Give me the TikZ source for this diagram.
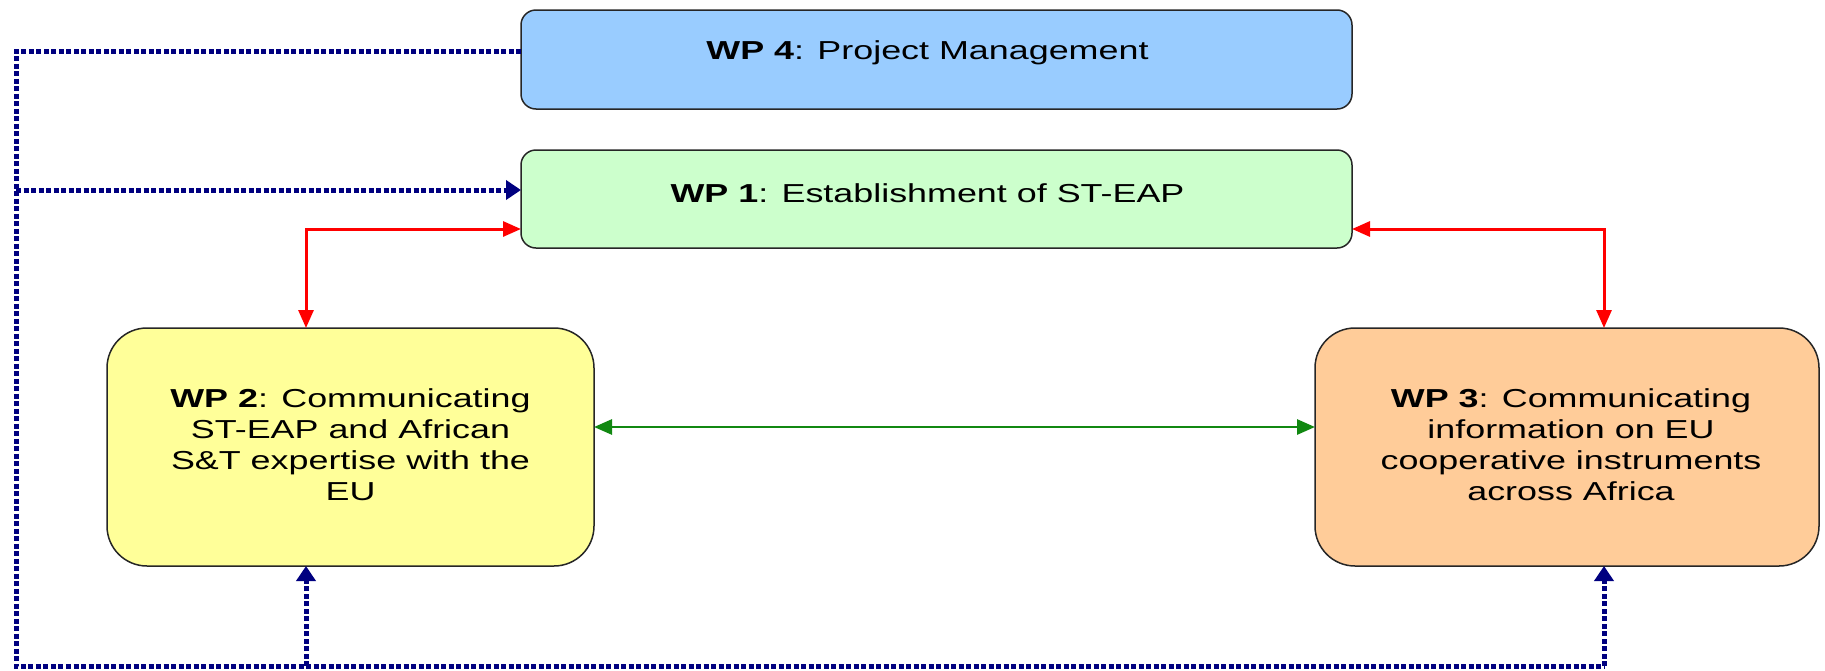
\documentclass[tikz,border=0pt]{standalone}
\usepackage{fontspec}
\setmainfont{Liberation Sans}[FakeStretch=1.38]
\usetikzlibrary{arrows.meta,calc}
\definecolor{wpblue}{HTML}{99CCFF}
\definecolor{wpgreen}{HTML}{CCFFCC}
\definecolor{wpyellow}{HTML}{FFFF99}
\definecolor{wporange}{HTML}{FFCC99}
\definecolor{navyline}{HTML}{000080}
\definecolor{redline}{HTML}{FF0000}
\definecolor{greenline}{HTML}{118811}
\begin{document}
\begin{tikzpicture}[x=1pt,y=-1pt,
  wpbox/.style={draw=black!85, line width=1.5pt, inner sep=0pt, outer sep=0pt},
  wptext/.style={align=center, inner sep=0pt, font=\fontsize{26}{31}\selectfont},
  dotline/.style={draw=navyline, line width=5pt, dash pattern=on 5pt off 2.5pt},
  dottip/.style={-{Triangle[length=15pt,width=19pt]}},
  redarrow/.style={draw=redline, line width=3pt, {Triangle[length=18pt,width=15pt]}-{Triangle[length=18pt,width=15pt]}},
  greenarrow/.style={draw=greenline, line width=2.8pt, {Triangle[length=18pt,width=15pt]}-{Triangle[length=18pt,width=15pt]}}
]
\useasboundingbox (0,0) rectangle (1825,670);

% boxes
\node[wpbox, fill=wpblue, rounded corners=15pt, minimum width=831pt, minimum height=99pt] (wp4) at (936.5,59.5) {};
\node[wpbox, fill=wpgreen, rounded corners=15pt, minimum width=831pt, minimum height=98pt] (wp1) at (936.5,199) {};
\node[wpbox, fill=wpyellow, rounded corners=40pt, minimum width=487pt, minimum height=238pt] (wp2) at (350.5,447) {};
\node[wpbox, fill=wporange, rounded corners=40pt, minimum width=504pt, minimum height=238pt] (wp3) at (1567,447) {};

% texts
\node[wptext] (wp4t) at ($(wp4.center)+(-9,-7)$) {\textbf{WP 4}: Project Management};
\node[wptext] (wp1t) at ($(wp1.center)+(-9,-6)$) {\textbf{WP 1}: Establishment of ST-EAP};
\node[wptext] (wp2t) at ($(wp2.center)+(0,-2)$) {\textbf{WP 2}: Communicating\\ST-EAP and African\\S\&T expertise with the\\EU};
\node[wptext] (wp3t) at ($(wp3.center)+(4,-2)$) {\textbf{WP 3}: Communicating\\information on EU\\cooperative instruments\\across Africa};

% coordinates for routing
\coordinate (c1) at (16,51);
\coordinate (c2) at (16,666);
\coordinate (c3) at (1604,666);
\coordinate (c4) at (16,190);
\coordinate (b2) at (306,666);
\coordinate (r1) at (306,229);
\coordinate (r2) at (1604,229);
\coordinate (g) at (0,427);

% navy dotted connectors
\draw[dotline] (wp4.west |- c1) -- (c1) -- (c2) -- (c3);
\draw[dotline, dottip] (c3) -- (c3 |- wp3.south);
\draw[dotline, dottip] (b2) -- (b2 |- wp2.south);
\draw[dotline, dottip] (c4) -- (c4 -| wp1.west);

% red connectors
\draw[redarrow] (r1 |- wp2.north) -- (r1) -- (r1 -| wp1.west);
\draw[redarrow] (r2 -| wp1.east) -- (r2) -- (r2 |- wp3.north);

% green connector
\draw[greenarrow] (g -| wp2.east) -- (g -| wp3.west);
\end{tikzpicture}
\end{document}
